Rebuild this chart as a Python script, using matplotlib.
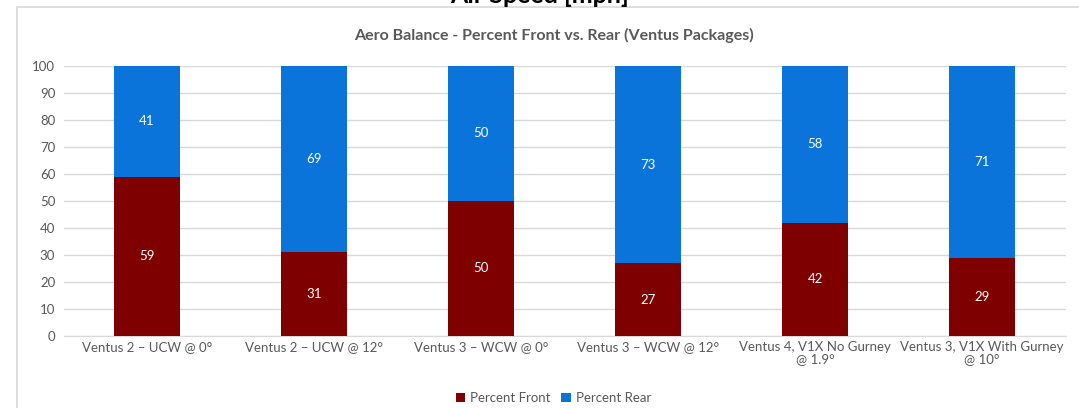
import numpy as np
import matplotlib.pyplot as plt
from matplotlib.patches import Rectangle

# Aero balance data
categories = ['Ventus 2 \u2013 UCW @ 0\u00b0', 'Ventus 2 \u2013 UCW @ 12\u00b0',
              'Ventus 3 \u2013 WCW @ 0\u00b0', 'Ventus 3 \u2013 WCW @ 12\u00b0',
              'Ventus 4, V1X No Gurney\n@ 1.9\u00b0', 'Ventus 3, V1X With Gurney\n@ 10\u00b0']
front = [59, 31, 50, 27, 42, 29]
rear = [41, 69, 50, 73, 58, 71]
yticks = [0, 10, 20, 30, 40, 50, 60, 70, 80, 90, 100]

c_front = '#7f0000'
c_rear = '#0a74da'
gray = '#595959'

plt.rcParams['font.family'] = ['Lato', 'DejaVu Sans']

fig = plt.figure(figsize=(10.79, 4.08), dpi=100)
ax = fig.add_axes([0.0589, 0.1765, 0.9286, 0.6618])

x = np.arange(len(categories))
w = 0.4
b1 = ax.bar(x, front, w, color=c_front, label='Percent Front', zorder=3)
b2 = ax.bar(x, rear, w, bottom=front, color=c_rear, label='Percent Rear', zorder=3)

for xi, f, r in zip(x, front, rear):
    ax.text(xi, f / 2, str(f), color='white', ha='center', va='center', fontsize=9.5, zorder=4)
    ax.text(xi, f + r / 2, str(r), color='white', ha='center', va='center', fontsize=9.5, zorder=4)

ax.set_xlim(-0.5, len(categories) - 0.5)
ax.set_ylim(0, 100)
ax.set_yticks(yticks)
ax.yaxis.grid(True, color='#d9d9d9', linewidth=1, zorder=0)
ax.set_xticks(x)
ax.set_xticklabels(categories, fontsize=9.5, color=gray, linespacing=1.0)
ax.tick_params(axis='both', length=0, labelsize=9.5, colors=gray)
ax.tick_params(axis='y', pad=6)
for s in ['top', 'right', 'left']:
    ax.spines[s].set_visible(False)
ax.spines['bottom'].set_color('#d9d9d9')

fig.text(0.513, 0.913, 'Aero Balance - Percent Front vs. Rear (Ventus Packages)',
         ha='center', va='center', fontsize=11.5, fontweight='bold', color=gray)

# cut-off heading of the page above (only its lower edge shows)
fig.text(0.5, 1.012, 'Air Speed [mph]', ha='center', va='center', fontsize=18,
         fontweight='bold', color='black')

# chart frame
fig.patches.append(Rectangle((17 / 1079, -0.05), 1.1, 1 - 7 / 408 + 0.05,
                             transform=fig.transFigure, fill=False,
                             edgecolor='#d9d9d9', linewidth=1.2))

fig.legend(handles=[b1, b2], loc='center', bbox_to_anchor=(0.513, 0.025), ncol=2,
           frameon=False, fontsize=9.5, handlelength=0.7, handleheight=0.7,
           handletextpad=0.4, columnspacing=0.8, labelcolor=gray)

fig.savefig('out.png', dpi=100)
